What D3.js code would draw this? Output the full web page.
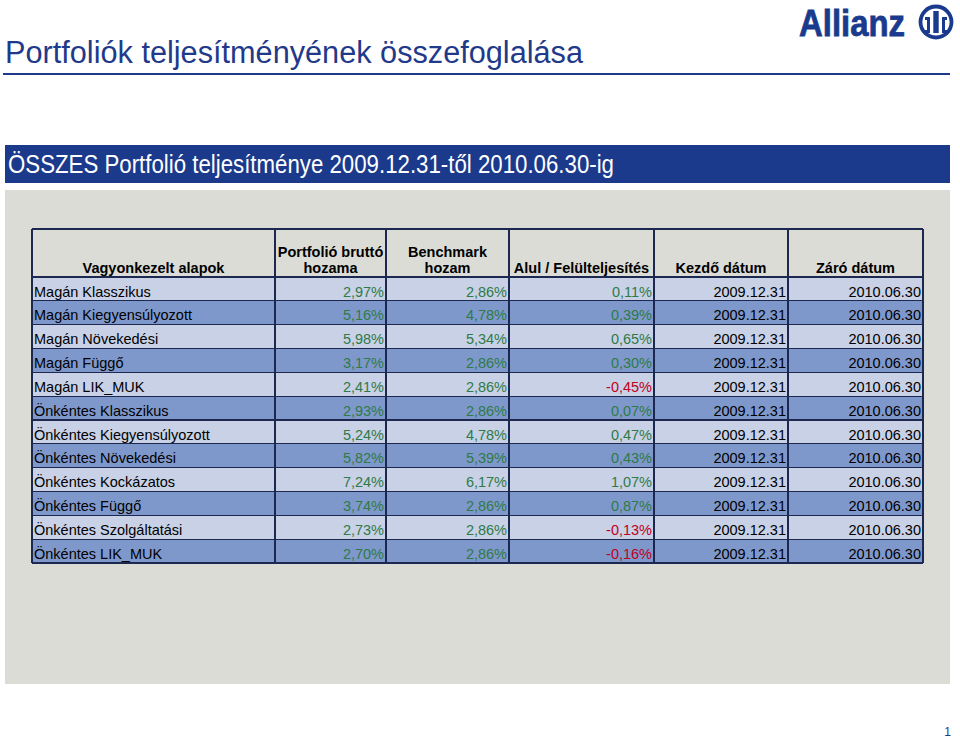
<!DOCTYPE html>
<html>
<head>
<meta charset="utf-8">
<script src="https://cdn.jsdelivr.net/npm/d3@7"></script>
<style>
  html, body { margin: 0; padding: 0; background: #ffffff; }
  svg { display: block; }
</style>
</head>
<body>
<div id="chart"></div>
<script>
// ---------------- DATA ----------------
const pageTitle = "Portfoliók teljesítményének összefoglalása";
const bannerTitle = "ÖSSZES Portfolió teljesítménye 2009.12.31-től 2010.06.30-ig";
const headers = [
  ["Vagyonkezelt alapok"],
  ["Portfolió bruttó", "hozama"],
  ["Benchmark", "hozam"],
  ["Alul / Felülteljesítés"],
  ["Kezdő dátum"],
  ["Záró dátum"]
];
const funds = [
  "Magán Klasszikus",
  "Magán Kiegyensúlyozott",
  "Magán Növekedési",
  "Magán Függő",
  "Magán LIK_MUK",
  "Önkéntes Klasszikus",
  "Önkéntes Kiegyensúlyozott",
  "Önkéntes Növekedési",
  "Önkéntes Kockázatos",
  "Önkéntes Függő",
  "Önkéntes Szolgáltatási",
  "Önkéntes LIK_MUK"
];
const portfolioReturn = [2.97, 5.16, 5.98, 3.17, 2.41, 2.93, 5.24, 5.82, 7.24, 3.74, 2.73, 2.70];
const benchmarkReturn = [2.86, 4.78, 5.34, 2.86, 2.86, 2.86, 4.78, 5.39, 6.17, 2.86, 2.86, 2.86];
const excessReturn    = [0.11, 0.39, 0.65, 0.30, -0.45, 0.07, 0.47, 0.43, 1.07, 0.87, -0.13, -0.16];
const startDates = ["2009.12.31","2009.12.31","2009.12.31","2009.12.31","2009.12.31","2009.12.31",
                    "2009.12.31","2009.12.31","2009.12.31","2009.12.31","2009.12.31","2009.12.31"];
const endDates   = ["2010.06.30","2010.06.30","2010.06.30","2010.06.30","2010.06.30","2010.06.30",
                    "2010.06.30","2010.06.30","2010.06.30","2010.06.30","2010.06.30","2010.06.30"];
const pageNumber = "1";

// ---------------- LAYOUT ----------------
const W = 960, H = 740;
const colEdges = [32, 275, 386, 509, 654, 788, 923];
const headerTop = 229, headerBottom = 277, tableBottom = 563;
const navy = "#1b3a8c";
const fontMain = "'Liberation Sans', Arial, sans-serif";

const svg = d3.select("#chart").append("svg")
  .attr("width", W).attr("height", H)
  .style("font-family", fontMain);

// Page title
svg.append("text")
  .attr("x", 5).attr("y", 63)
  .attr("font-size", 31)
  .attr("fill", "#1f3a8a")
  .attr("textLength", 578).attr("lengthAdjust", "spacingAndGlyphs")
  .text(pageTitle);

// Underline
svg.append("rect").attr("x", 3).attr("y", 73).attr("width", 947).attr("height", 2).attr("fill", "#1f3a8a");

// Allianz logo
const logo = svg.append("g");
logo.append("text")
  .attr("x", 799).attr("y", 36)
  .attr("font-size", 37).attr("font-weight", 900)
  .attr("fill", "#1a3a8e")
  .attr("stroke", "#1a3a8e").attr("stroke-width", 0.8)
  .attr("textLength", 106).attr("lengthAdjust", "spacingAndGlyphs")
  .text("Allianz");
logo.append("circle").attr("cx", 936).attr("cy", 22).attr("r", 15.5)
  .attr("fill", "none").attr("stroke", "#1a3a8e").attr("stroke-width", 3.8);
logo.append("rect").attr("x", 933.3).attr("y", 11).attr("width", 5.4).attr("height", 22).attr("fill", "#1a3a8e");
logo.append("path").attr("d", "M925,17 h5 v16 h-5 v-3 h2 v-10 h-2 z").attr("fill", "#1a3a8e");
logo.append("path").attr("d", "M947,17 h-5 v16 h5 v-3 h-2 v-10 h2 z").attr("fill", "#1a3a8e");

// Banner
svg.append("rect").attr("x", 5).attr("y", 145).attr("width", 945).attr("height", 38).attr("fill", navy);
svg.append("text")
  .attr("x", 8).attr("y", 173)
  .attr("font-size", 25)
  .attr("font-family", "'Liberation Sans Narrow', 'Arial Narrow', 'Liberation Sans', sans-serif")
  .attr("fill", "#ffffff")
  .attr("textLength", 606).attr("lengthAdjust", "spacingAndGlyphs")
  .text(bannerTitle);

// Gray panel
svg.append("rect").attr("x", 5).attr("y", 190).attr("width", 945).attr("height", 494).attr("fill", "#dcdcd6");

// Scales
const y = d3.scaleBand().domain(d3.range(funds.length)).range([headerBottom, tableBottom]).paddingInner(0).paddingOuter(0);
const colX = d3.scaleOrdinal().domain(d3.range(6)).range(colEdges.slice(0, 6));
const colW = i => colEdges[i + 1] - colEdges[i];

const loc = d3.formatLocale({decimal: ",", thousands: " ", grouping: [3], currency: ["", ""], minus: "-"});
const pct = v => loc.format(".2f")(v) + "%";

// Rows
const rows = svg.append("g").selectAll("g").data(funds).join("g")
  .attr("transform", (d, i) => `translate(0,${y(i)})`);
rows.append("rect")
  .attr("x", colEdges[0]).attr("width", colEdges[6] - colEdges[0])
  .attr("height", y.bandwidth())
  .attr("fill", (d, i) => i % 2 === 0 ? "#c8d1e6" : "#7f98cc");

const green = "#2f7a47", red = "#c0001a";
const cellText = (sel, col, accessor, color, anchor) => {
  sel.append("text")
    .attr("x", anchor === "start" ? colX(col) + 2 : colX(col) + colW(col) - 2)
    .attr("y", 19.5)
    .attr("text-anchor", anchor)
    .attr("font-size", 14.5)
    .attr("fill", color)
    .text(accessor);
};
cellText(rows, 0, d => d, "#000", "start");
rows.each(function(d, i) {
  const g = d3.select(this);
  cellText(g, 1, () => pct(portfolioReturn[i]), portfolioReturn[i] < 0 ? red : green, "end");
  cellText(g, 2, () => pct(benchmarkReturn[i]), benchmarkReturn[i] < 0 ? red : green, "end");
  cellText(g, 3, () => pct(excessReturn[i]), excessReturn[i] < 0 ? red : green, "end");
  cellText(g, 4, () => startDates[i], "#000", "end");
  cellText(g, 5, () => endDates[i], "#000", "end");
});

// Header text
headers.forEach((lines, c) => {
  const cx = colX(c) + colW(c) / 2;
  lines.forEach((ln, k) => {
    svg.append("text")
      .attr("x", cx)
      .attr("y", 273 - (lines.length - 1 - k) * 16.5)
      .attr("text-anchor", "middle")
      .attr("font-size", 14.5).attr("font-weight", "bold")
      .attr("fill", "#000")
      .text(ln);
  });
});

// Grid lines
const lineColor = "#1c2850";
const grid = svg.append("g").attr("stroke", lineColor).attr("stroke-width", 1.2).attr("shape-rendering", "crispEdges");
colEdges.forEach(x => grid.append("line").attr("x1", x).attr("x2", x).attr("y1", headerTop).attr("y2", tableBottom));
[headerTop, headerBottom].concat(d3.range(funds.length).map(i => y(i) + y.bandwidth()))
  .forEach(yy => grid.append("line").attr("x1", colEdges[0]).attr("x2", colEdges[6]).attr("y1", yy).attr("y2", yy));

// Page number
svg.append("text").attr("x", 951).attr("y", 736).attr("text-anchor", "end")
  .attr("font-size", 12).attr("fill", "#1f3a8a").text(pageNumber);
</script>
</body>
</html>
